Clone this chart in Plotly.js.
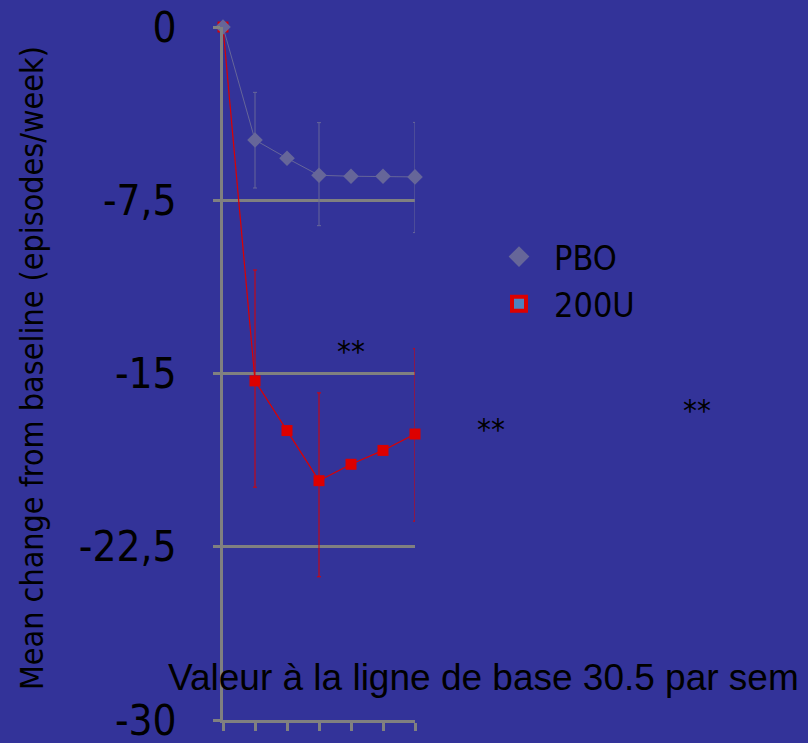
<!DOCTYPE html>
<html>
<head>
<meta charset="utf-8">
<script src="https://cdn.plot.ly/plotly-3.0.1.min.js"></script>
<style>html,body{margin:0;padding:0;background:#333399;}#chart{width:808px;height:743px;}</style>
</head>
<body>
<div id="chart"></div>
<script>
// Time points (categories along x, unlabeled in the original)
const timePoints = [0, 1, 2, 3, 4, 5, 6];

// Placebo (PBO) mean change from baseline
const pboValues = [0, -4.89, -5.68, -6.42, -6.46, -6.46, -6.49];
const pboErrPlus = [0, 2.06, 0, 2.28, 0, 0, 2.36];
const pboErrMinus = [0, 2.08, 0, 2.18, 0, 0, 2.41];

// 200U mean change from baseline
const u200Values = [0, -15.32, -17.47, -19.64, -18.93, -18.33, -17.62];
const u200ErrPlus = [0, 4.8, 0, 3.8, 0, 0, 3.69];
const u200ErrMinus = [0, 4.6, 0, 4.16, 0, 0, 3.77];

const yTickVals = [0, -7.5, -15, -22.5, -30];
const yTickText = ["0", "-7,5", "-15", "-22,5", "-30"];

const seriesNames = ["PBO", "200U"];
const yTitle = "Mean change from baseline (episodes/week)";
const noteText = "Valeur à la ligne de base 30.5 par sem";
const sigMark = "**";

const bg = "#333399";
const gray = "#808080";
const pboColor = "#666699";
const red = "#dd0000";
const humanist = "DejaVu Sans Condensed, DejaVu Sans, sans-serif";

const traces = [
  {
    x: timePoints, y: u200Values, type: "scatter", mode: "lines+markers",
    name: seriesNames[1], showlegend: false, cliponaxis: false,
    line: {color: red, width: 1.2},
    marker: {symbol: "square", size: 11, color: red},
    error_y: {type: "data", array: u200ErrPlus, arrayminus: u200ErrMinus, symmetric: false,
              color: red, thickness: 1, width: 2}
  },
  {
    x: timePoints, y: pboValues, type: "scatter", mode: "lines+markers",
    name: seriesNames[0], showlegend: false, cliponaxis: false,
    line: {color: pboColor, width: 1},
    marker: {symbol: "diamond", size: 12, color: pboColor},
    error_y: {type: "data", array: pboErrPlus, arrayminus: pboErrMinus, symmetric: false,
              color: pboColor, thickness: 1, width: 2}
  },
  // legend entries
  {
    x: [null], y: [null], type: "scatter", mode: "markers", name: seriesNames[0],
    marker: {symbol: "diamond", size: 16, color: pboColor}
  },
  {
    x: [null], y: [null], type: "scatter", mode: "markers", name: seriesNames[1],
    marker: {symbol: "square", size: 14, color: "#4f81bd", line: {color: red, width: 4}}
  }
];

const px2x = p => (p - 223) / 192;
const px2y = p => (720 - p) / 693;

const layout = {
  width: 808, height: 743,
  paper_bgcolor: bg, plot_bgcolor: bg,
  margin: {l: 223, r: 393, t: 27, b: 23, pad: 0},
  showlegend: true,
  legend: {
    x: px2x(484), y: px2y(228), xanchor: "left", yanchor: "top",
    bgcolor: "rgba(0,0,0,0)", font: {family: humanist, size: 34, color: "#000000"},
    tracegroupgap: 0, itemwidth: 60
  },
  xaxis: {
    range: [0, 6], showgrid: false, zeroline: false,
    showline: true, linecolor: gray, linewidth: 3,
    tickvals: timePoints, ticks: "outside", ticklen: 8, tickcolor: gray, tickwidth: 3,
    showticklabels: false, fixedrange: true
  },
  yaxis: {
    range: [-30, 0], zeroline: false,
    showgrid: true, gridcolor: gray, gridwidth: 3,
    showline: true, linecolor: gray, linewidth: 3,
    tickvals: yTickVals, ticktext: yTickText,
    ticks: "outside", ticklen: 7, tickcolor: gray, tickwidth: 3,
    ticklabelstandoff: 28, ticklabeloverflow: "allow",
    tickfont: {family: humanist, size: 42, color: "#000000"},
    fixedrange: true
  },
  annotations: [
    {xref: "paper", yref: "paper", x: px2x(32), y: px2y(368), text: yTitle, textangle: -90,
     showarrow: false, xanchor: "center", yanchor: "middle",
     font: {family: humanist, size: 32, color: "#000000"}},
    {xref: "paper", yref: "paper", x: px2x(483), y: px2y(677), text: noteText,
     showarrow: false, xanchor: "center", yanchor: "middle",
     font: {family: "Liberation Sans, Arial, sans-serif", size: 37, color: "#000000"}},
    {xref: "paper", yref: "paper", x: px2x(351), y: px2y(351), text: sigMark,
     showarrow: false, xanchor: "center", yanchor: "middle",
     font: {family: humanist, size: 31, color: "#000000"}},
    {xref: "paper", yref: "paper", x: px2x(491), y: px2y(429), text: sigMark,
     showarrow: false, xanchor: "center", yanchor: "middle",
     font: {family: humanist, size: 31, color: "#000000"}},
    {xref: "paper", yref: "paper", x: px2x(697), y: px2y(410), text: sigMark,
     showarrow: false, xanchor: "center", yanchor: "middle",
     font: {family: humanist, size: 31, color: "#000000"}}
  ]
};

Plotly.newPlot("chart", traces, layout, {displayModeBar: false, staticPlot: true});
</script>
</body>
</html>
